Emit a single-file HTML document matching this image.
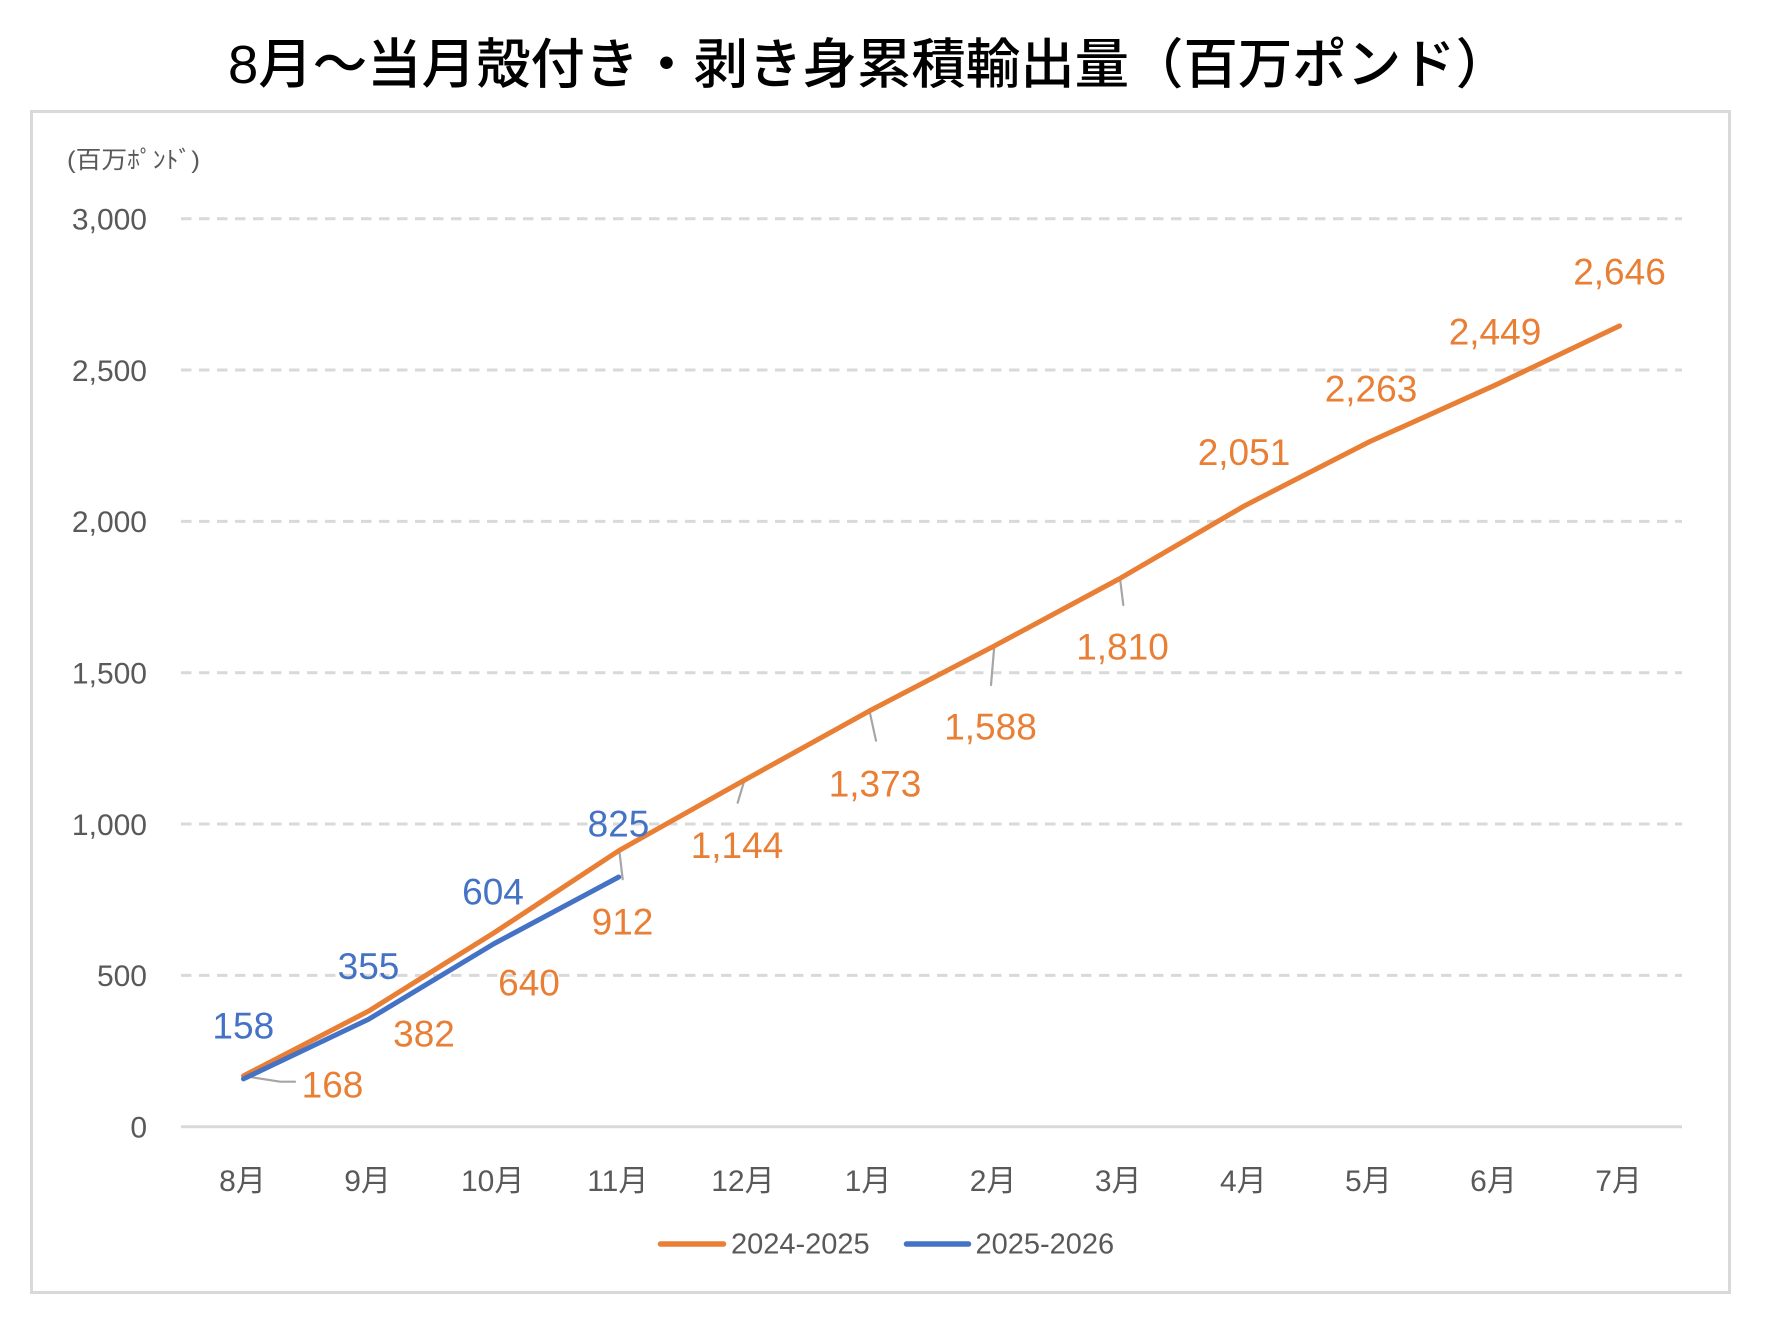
<!DOCTYPE html>
<html>
<head>
<meta charset="utf-8">
<style>
  html, body { margin: 0; padding: 0; background: #ffffff; }
  body { width: 1766px; height: 1322px; overflow: hidden; }
  svg { display: block; }
  .tick { font-family: "Liberation Sans", "Noto Sans CJK JP", sans-serif; font-size: 30px; fill: #595959; }
  .xl { font-family: "Liberation Sans", "Noto Sans CJK JP", sans-serif; font-size: 30px; fill: #595959; }
  .lo { font-family: "Liberation Sans", sans-serif; font-size: 37px; fill: #E97E35; }
  .lb { font-family: "Liberation Sans", sans-serif; font-size: 37px; fill: #4472C4; }
  .leg { font-family: "Liberation Sans", sans-serif; font-size: 29px; fill: #595959; }
</style>
</head>
<body>
<svg width="1766" height="1322" viewBox="0 0 1766 1322" xmlns="http://www.w3.org/2000/svg">
  <rect x="0" y="0" width="1766" height="1322" fill="#ffffff"/>

  <!-- Title -->
  <text x="228" y="83" font-family="'Liberation Sans','Noto Sans CJK JP',sans-serif" font-size="54" font-weight="500" fill="#000000" textLength="1282" lengthAdjust="spacingAndGlyphs">8月～当月殻付き・剥き身累積輸出量（百万ポンド）</text>

  <!-- Frame -->
  <rect x="31.5" y="111.5" width="1698" height="1181" fill="none" stroke="#d9d9d9" stroke-width="3"/>

  <!-- Unit label -->
  <text x="67" y="168" font-family="'Liberation Sans','Noto Sans CJK JP',sans-serif" font-size="24" fill="#595959" textLength="133" lengthAdjust="spacingAndGlyphs">(百万ﾎﾟﾝﾄﾞ)</text>

  <!-- Gridlines -->
  <g stroke="#d9d9d9" stroke-width="3" stroke-dasharray="10.5 7.5" fill="none">
    <line x1="181" y1="218.7" x2="1682" y2="218.7"/>
    <line x1="181" y1="370.0" x2="1682" y2="370.0"/>
    <line x1="181" y1="521.4" x2="1682" y2="521.4"/>
    <line x1="181" y1="672.7" x2="1682" y2="672.7"/>
    <line x1="181" y1="824.0" x2="1682" y2="824.0"/>
    <line x1="181" y1="975.4" x2="1682" y2="975.4"/>
  </g>
  <!-- X axis line -->
  <line x1="181" y1="1126.7" x2="1682" y2="1126.7" stroke="#d9d9d9" stroke-width="3"/>

  <!-- Y tick labels -->
  <g class="tick" text-anchor="end">
    <text x="147" y="229.5">3,000</text>
    <text x="147" y="380.8">2,500</text>
    <text x="147" y="532.2">2,000</text>
    <text x="147" y="683.5">1,500</text>
    <text x="147" y="834.8">1,000</text>
    <text x="147" y="986.2">500</text>
    <text x="147" y="1137.5">0</text>
  </g>

  <!-- X labels -->
  <g class="xl" text-anchor="middle">
    <text x="242.5" y="1191">8月</text>
    <text x="367.6" y="1191">9月</text>
    <text x="492.7" y="1191">10月</text>
    <text x="617.8" y="1191">11月</text>
    <text x="742.9" y="1191">12月</text>
    <text x="868.0" y="1191">1月</text>
    <text x="993.1" y="1191">2月</text>
    <text x="1118.2" y="1191">3月</text>
    <text x="1243.3" y="1191">4月</text>
    <text x="1368.4" y="1191">5月</text>
    <text x="1493.5" y="1191">6月</text>
    <text x="1618.6" y="1191">7月</text>
  </g>

  <!-- Leader lines -->
  <g stroke="#a6a6a6" stroke-width="2.2" fill="none" stroke-linecap="round">
    <polyline points="244,1076 280,1081.7 295,1081.7"/>
    <line x1="619.3" y1="850.7" x2="622.7" y2="879.3"/>
    <line x1="744.3" y1="780.7" x2="737.7" y2="802.7"/>
    <line x1="869.3" y1="710" x2="876" y2="740.7"/>
    <line x1="994.3" y1="646" x2="991" y2="685"/>
    <line x1="1120" y1="578.3" x2="1123.3" y2="605"/>
  </g>

  <!-- Series 2024-2025 -->
  <polyline fill="none" stroke="#E97E35" stroke-width="5" stroke-linejoin="round" stroke-linecap="round"
    points="243.5,1075.85 368.6,1011.08 493.7,932.99 618.8,850.66 743.9,780.45 869.0,711.13 994.1,646.06 1119.2,578.87 1244.3,505.92 1369.4,441.76 1494.5,385.46 1619.6,325.84"/>
  <!-- Series 2025-2026 -->
  <polyline fill="none" stroke="#4472C4" stroke-width="5" stroke-linejoin="round" stroke-linecap="round"
    points="243.5,1078.88 368.6,1019.25 493.7,943.89 618.8,877.0"/>

  <!-- Data labels orange -->
  <g class="lo" text-anchor="middle">
    <text x="332.5" y="1097.3">168</text>
    <text x="424" y="1046.3">382</text>
    <text x="529" y="995.3">640</text>
    <text x="622.5" y="934.3">912</text>
    <text x="737" y="857.8">1,144</text>
    <text x="875" y="796.3">1,373</text>
    <text x="990.5" y="739.3">1,588</text>
    <text x="1122.5" y="659.3">1,810</text>
    <text x="1244" y="464.8">2,051</text>
    <text x="1371" y="401.3">2,263</text>
    <text x="1495" y="344.3">2,449</text>
    <text x="1619.5" y="284.3">2,646</text>
  </g>
  <!-- Data labels blue -->
  <g class="lb" text-anchor="middle">
    <text x="243.3" y="1038.3">158</text>
    <text x="368.5" y="979">355</text>
    <text x="493" y="904.3">604</text>
    <text x="618.5" y="836.3">825</text>
  </g>

  <!-- Legend -->
  <line x1="660.5" y1="1244" x2="723.5" y2="1244" stroke="#E97E35" stroke-width="5.5" stroke-linecap="round"/>
  <text class="leg" x="731" y="1253.5">2024-2025</text>
  <line x1="906.5" y1="1244" x2="968.5" y2="1244" stroke="#4472C4" stroke-width="5.5" stroke-linecap="round"/>
  <text class="leg" x="975.5" y="1253.5">2025-2026</text>
</svg>
</body>
</html>
